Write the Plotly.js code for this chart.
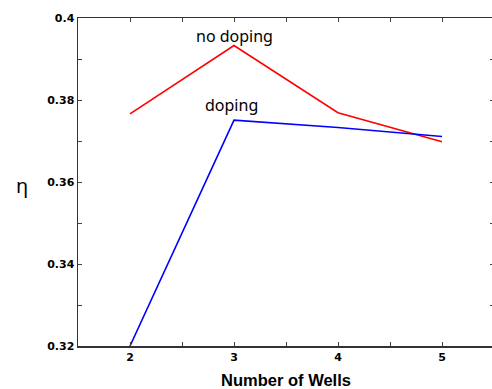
<!DOCTYPE html>
<html>
<head>
<meta charset="utf-8">
<script src="https://cdn.plot.ly/plotly-3.0.1.min.js"></script>
<style>
html, body { margin: 0; padding: 0; overflow: hidden; background: #fff; }
#chart { width: 495px; height: 389px; }
</style>
</head>
<body>
<div id="chart"></div>
<script>
const wells = [2, 3, 4, 5];
const noDoping = [0.3766, 0.3933, 0.3769, 0.3698];
const doping = [0.3200, 0.3751, 0.3733, 0.3711];
const xTickVals = [2, 3, 4, 5];
const yTickVals = [0.32, 0.34, 0.36, 0.38, 0.4];
const yTickText = ['0.32', '0.34', '0.36', '0.38', '0.4'];
const yTitle = 'η';

const traces = [
  { x: wells, y: noDoping, mode: 'lines', name: 'no doping',
    line: { color: '#ff0000', width: 1.6 }, cliponaxis: false },
  { x: wells, y: doping, mode: 'lines', name: 'doping',
    line: { color: '#0000ff', width: 1.6 }, cliponaxis: false }
];

const tickFont = { family: 'DejaVu Sans', size: 11, color: '#000', weight: 'bold' };

const layout = {
  width: 495, height: 389,
  margin: { l: 78, r: 1, t: 18, b: 43 },
  paper_bgcolor: '#fff', plot_bgcolor: '#fff',
  showlegend: false,
  xaxis: {
    range: [1.5, 5.5], tickvals: xTickVals, ticktext: xTickVals.map(String),
    ticks: 'inside', ticklen: 4, tickwidth: 1, tickcolor: '#444',
    showline: true, linecolor: '#333', linewidth: 1.5, mirror: 'ticks',
    showgrid: false, zeroline: false, tickfont: tickFont,
    minor: { tickvals: [2.5, 3.5, 4.5], ticks: 'inside', ticklen: 4, tickcolor: '#444', showgrid: false },
    title: { text: 'Number of Wells', standoff: 13,
      font: { family: 'Liberation Sans', size: 16.5, color: '#000', weight: 'bold' } }
  },
  yaxis: {
    range: [0.32, 0.4], tickvals: yTickVals, ticktext: yTickText,
    ticks: 'inside', ticklen: 4, tickwidth: 1, tickcolor: '#444',
    showline: true, linecolor: '#333', linewidth: 1.5, mirror: 'ticks',
    showgrid: false, zeroline: false, tickfont: tickFont,
    minor: { tickvals: [0.33, 0.35, 0.37, 0.39], ticks: 'inside', ticklen: 4, tickcolor: '#444', showgrid: false }
  },
  annotations: [
    { x: -0.135, y: 0.488, xref: 'paper', yref: 'paper', text: yTitle, showarrow: false,
      xanchor: 'center', yanchor: 'middle',
      font: { family: 'Noto Sans', size: 20, color: '#000' } },
    { x: 3, y: 0.3955, xref: 'x', yref: 'y', text: traces[0].name, showarrow: false,
      xanchor: 'center', yanchor: 'middle',
      font: { family: 'Noto Sans', size: 16, color: '#000' } },
    { x: 2.98, y: 0.3788, xref: 'x', yref: 'y', text: traces[1].name, showarrow: false,
      xanchor: 'center', yanchor: 'middle',
      font: { family: 'Noto Sans', size: 16, color: '#000' } }
  ]
};

Plotly.newPlot('chart', traces, layout, { displayModeBar: false, staticPlot: true });
</script>
</body>
</html>
